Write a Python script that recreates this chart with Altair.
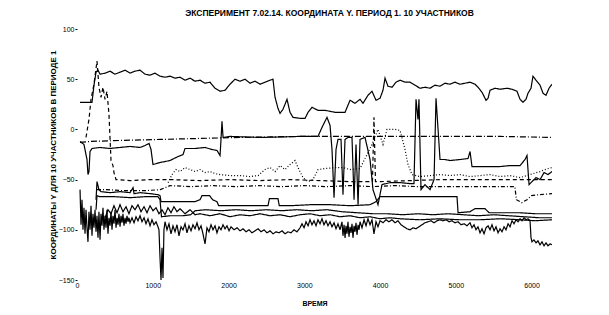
import altair as alt
import pandas as pd

TITLE = "ЭКСПЕРИМЕНТ 7.02.14. КООРДИНАТА Y. ПЕРИОД 1. 10 УЧАСТНИКОВ"
X_TITLE = "ВРЕМЯ"
Y_TITLE = "КООРДИНАТЫ Y ДЛЯ 10 УЧАСТНИКОВ В ПЕРИОДЕ 1"
X_TICKS = [0, 1000, 2000, 3000, 4000, 5000, 6000]
Y_TICKS = [-150, -100, -50, 0, 50, 100]

# (time, value) pairs
S1 = [(40,27),(198,27),(224,44),(251,57),(277,59),(304,55),(370,56),(436,58),(502,55),(568,57),
      (634,59),(700,56),(766,58),(832,59),(898,55),(964,54),(1030,56),(1096,53),(1162,52),(1228,53),
      (1294,51),(1360,52),(1426,49),(1492,51),(1558,48),(1624,49),(1690,46),(1756,47),(1822,41),(1888,38),
      (1954,39),(2020,45),(2086,50),(2152,48),(2218,50),(2284,46),(2350,48),(2416,45),(2482,47),(2548,49),
      (2587,50),(2614,32),(2653,21),(2680,16),(2719,20),(2772,30),(2812,17),(2851,12),(2944,11),(3010,11),
      (3050,17),(3102,22),(3181,19),(3274,19),(3406,17),(3538,17),(3604,29),(3670,26),(3736,30),(3775,26),
      (3841,34),(3894,38),(3947,29),(4000,31),(4039,39),(4066,51),(4105,43),(4158,42),(4211,47),(4264,49),
      (4330,47),(4396,47),(4462,44),(4528,41),(4594,42),(4660,41),(4726,44),(4792,43),(4858,46),(4924,45),
      (4990,47),(5056,45),(5122,46),(5188,47),(5254,45),(5293,42),(5346,37),(5399,29),(5426,31),(5452,39),
      (5518,41),(5584,40),(5676,41),(5742,40),(5808,38),(5848,30),(5887,27),(5927,30),(5953,36),(5993,41),
      (6019,53),(6059,49),(6112,44),(6152,36),(6191,34),(6231,41),(6270,45)]

S2 = [(119,-8),(158,10),(185,30),(224,45),(264,68),(290,42),(317,32),(343,42),(370,30),(396,38),
      (422,15),(449,-31),(475,-36),(488,-43),(515,-50),(700,-51),(964,-50),(1228,-50),(1624,-51),(2020,-50),
      (2416,-51),(2812,-50),(3208,-51),(3604,-52),(3900,-52),(3920,12),(3940,-52),(4000,-52),(4396,-51),
      (4792,-50),(5188,-50),(5584,-50),(5980,-50),(6270,-50)]

S3 = [(40,-13),(172,-12),(568,-11),(1096,-10),(1624,-9),(2152,-8),(2944,-7),(3604,-7),(4264,-7),
      (4924,-7),(5584,-7),(6270,-8)]

S4 = [(40,-12),(92,-15),(132,-30),(145,-45),(158,-42),(172,-22),(198,-19),(304,-18),(436,-19),(568,-18),
      (700,-17),(832,-18),(898,-16),(951,-14),(977,-20),(1003,-35),(1096,-33),(1228,-31),(1334,-27),(1400,-25),
      (1426,-19),(1558,-19),(1690,-18),(1782,-20),(1848,-21),(1888,-26),(1901,-10),(1914,8),(1928,-8),(2020,-7),
      (2416,-8),(2944,-7),(3181,-7),(3234,2),(3300,12),(3340,4),(3366,-20),(3393,-68),(3419,-20),(3445,-10),
      (3485,-10),(3511,-65),(3538,-10),(3577,-8),(3630,-8),(3657,-70),(3683,-15),(3710,-75),(3736,-10),(3802,-8),
      (3868,-30),(3907,-60),(3973,-75),(4026,-55),(4132,-53),(4264,-53),(4396,-54),(4448,-54),(4475,30),(4501,10),
      (4514,30),(4541,-60),(4594,-55),(4660,-60),(4713,-50),(4739,31),(4766,0),(4792,-30),(4858,-30),(4924,-31),
      (5056,-30),(5162,-29),(5188,-22),(5214,-37),(5320,-37),(5452,-37),(5584,-37),(5716,-36),(5848,-36),(5914,-30),
      (5940,-26),(5967,-55),(6006,-52),(6059,-48),(6112,-50),(6165,-43),(6217,-45),(6270,-42)]

S5 = [(1202,-53),(1254,-45),(1307,-40),(1360,-42),(1426,-38),(1492,-40),(1558,-42),(1624,-40),(1690,-43),(1756,-42),
      (1822,-44),(1888,-45),(2020,-46),(2152,-46),(2284,-47),(2390,-46),(2482,-40),(2548,-38),(2614,-42),(2680,-36),
      (2746,-40),(2812,-35),(2878,-31),(2917,-38),(2983,-48),(3050,-52),(3115,-50),(3181,-40),(3274,-39),(3406,-38),
      (3511,-38),(3604,-40),(3736,-39),(3894,-15),(3973,0),(4039,-15),(4092,0),(4198,0),(4264,-1),(4330,-20),
      (4369,-35),(4422,-45),(4528,-47),(4660,-46),(4792,-45),(4924,-46),(5056,-45),(5188,-47),(5320,-46),(5452,-45),
      (5584,-47),(5716,-46),(5848,-48),(5980,-45),(6112,-42),(6178,-40),(6270,-38)]

S6 = [(251,-70),(264,-52),(290,-60),(317,-62),(436,-63),(568,-62),(700,-63),(740,-58),(753,-64),(832,-63),
      (964,-64),(1069,-65),(1096,-66),(1109,-72),(1228,-72),(1426,-72),(1558,-72),(1624,-70),(1650,-66),(1750,-66),
      (1790,-70),(1848,-72),(1870,-76),(2152,-76),(2416,-76),(2521,-76),(2540,-69),(2653,-69),(2670,-76),(2812,-76),
      (3076,-75),(3340,-75),(3604,-76),(3868,-75),(3947,-72),(4000,-67),(4264,-67),(4528,-67),(4792,-67),(5016,-67),
      (5030,-83),(5188,-82),(5254,-79),(5386,-79),(5440,-83),(5584,-83),(5848,-83),(6046,-84),(6270,-84)]

S7 = [(370,-88),(409,-80),(449,-84),(488,-76),(528,-83),(568,-75),(607,-82),(647,-77),(686,-84),(726,-76),
      (766,-80),(805,-75),(845,-82),(885,-77),(924,-83),(964,-76),(1003,-81),(1043,-78),(1082,-84),(1122,-80),
      (1162,-85),(1201,-78),(1241,-83),(1280,-77),(1320,-82),(1360,-79),(1426,-84),(1492,-80),(1558,-85),(1624,-84),
      (1756,-86),(1888,-84),(2020,-87),(2152,-85),(2284,-86),(2416,-84),(2548,-86),(2680,-85),(2812,-87),(2944,-85),
      (3076,-84),(3208,-86),(3340,-85),(3472,-87),(3604,-86),(3736,-88),(3868,-87),(4000,-89),(4132,-88),(4264,-89),
      (4528,-90),(4792,-89),(5056,-90),(5320,-90),(5584,-89),(5848,-90),(6046,-91),(6270,-90)]

S8 = [(40,-60),(53,-95),(66,-70),(79,-100),(92,-78),(106,-104),(119,-80),(132,-98),(145,-112),(158,-82),
      (172,-100),(185,-76),(198,-106),(211,-84),(224,-98),(238,-80),(251,-102),(264,-86),(277,-108),(290,-82),
      (304,-110),(317,-84),(330,-96),(343,-78),(356,-100),(370,-86),(383,-98),(396,-80),(409,-104),(422,-88),
      (436,-96),(449,-82),(462,-100),(475,-86),(488,-94),(502,-80),(515,-98),(528,-88),(541,-95),(554,-84),
      (568,-97),(581,-86),(594,-93),(607,-84),(620,-96),(634,-88),(647,-94),(660,-86),(673,-92),(686,-88),
      (700,-93),(726,-88),(753,-93),(779,-87),(805,-91),(832,-86),(858,-92),(885,-88),(911,-94),(937,-89),
      (964,-96),(990,-90),(1016,-95),(1043,-92),(1069,-97),(1082,-100),(1096,-128),(1109,-150),(1122,-118),(1135,-148),
      (1148,-100),(1162,-92),(1188,-100),(1214,-94),(1241,-104),(1267,-96),(1294,-102),(1320,-95),(1346,-106),(1373,-97),
      (1399,-100),(1426,-94),(1452,-103),(1478,-96),(1505,-101),(1531,-95),(1558,-99),(1584,-93),(1610,-100),(1637,-96),
      (1663,-104),(1690,-114),(1716,-98),(1742,-102),(1769,-95),(1795,-100),(1822,-96),(1848,-103),(1874,-97),(1901,-100),
      (1927,-95),(1954,-99),(1980,-96),(2007,-101),(2033,-97),(2073,-100),(2113,-98),(2152,-101),(2192,-99),(2231,-102),
      (2271,-100),(2310,-103),(2350,-101),(2390,-99),(2429,-102),(2469,-100),(2508,-103),(2548,-101),(2588,-104),(2627,-102),
      (2667,-103),(2706,-101),(2746,-104),(2785,-102),(2825,-103),(2865,-100),(2904,-102),(2944,-98),(2970,-94),(2997,-98),
      (3023,-92),(3050,-96),(3076,-90),(3102,-95),(3129,-91),(3155,-96),(3181,-90),(3208,-94),(3234,-89),(3260,-95),
      (3287,-91),(3313,-96),(3340,-92),(3366,-97),(3393,-93),(3419,-99),(3445,-94),(3472,-100),(3498,-92),(3511,-106),
      (3525,-95),(3538,-108),(3551,-96),(3564,-104),(3577,-92),(3590,-107),(3604,-97),(3617,-103),(3630,-94),(3643,-108),
      (3657,-96),(3670,-102),(3683,-93),(3696,-105),(3710,-95),(3723,-100),(3736,-92),(3762,-98),(3789,-90),(3815,-96),
      (3841,-89),(3868,-95),(3894,-90),(3920,-104),(3947,-92),(3973,-97),(4000,-91),(4039,-93),(4079,-90),(4118,-92),
      (4158,-90),(4198,-93),(4237,-91),(4277,-95),(4316,-97),(4356,-99),(4396,-100),(4435,-98),(4475,-99),(4514,-97),
      (4554,-95),(4594,-93),(4633,-92),(4673,-91),(4713,-93),(4752,-91),(4792,-90),(4831,-91),(4871,-90),(4911,-92),
      (4950,-91),(4990,-93),(5029,-92),(5069,-95),(5108,-94),(5148,-96),(5188,-93),(5214,-98),(5241,-95),(5267,-100),
      (5293,-97),(5320,-103),(5346,-99),(5373,-104),(5399,-98),(5426,-96),(5452,-100),(5478,-95),(5505,-101),(5531,-97),
      (5558,-103),(5584,-99),(5610,-102),(5637,-97),(5663,-100),(5690,-94),(5716,-97),(5742,-91),(5769,-94),(5795,-90),
      (5822,-92),(5848,-89),(5874,-91),(5901,-88),(5927,-90),(5953,-89),(5980,-91),(5993,-108),(6006,-112),(6032,-110),
      (6059,-113),(6085,-111),(6112,-115),(6138,-112),(6165,-116),(6191,-113),(6217,-116),(6244,-114),(6270,-115)]

S9 = [(251,-80),(264,-66),(300,-67),(500,-67),(700,-68),(900,-67),(1069,-67),(1096,-70),(1115,-87),(1228,-86),
      (1400,-86),(1500,-85),(1560,-81),(1700,-80),(1900,-81),(2100,-80),(2300,-81),(2500,-80),(2700,-81),(2900,-80),
      (3100,-81),(3300,-80),(3500,-82),(3700,-83),(3900,-84),(4100,-84),(4300,-85),(4500,-84),(4700,-85),(4900,-84),
      (5100,-85),(5300,-86),(5500,-85),(5700,-86),(5900,-87),(6100,-88),(6270,-88)]

S10 = [(264,-60),(400,-60),(600,-61),(900,-61),(1100,-60),(1228,-56),(1500,-57),(1800,-56),(2100,-57),(2400,-56),
       (2700,-57),(3000,-56),(3300,-57),(3600,-56),(3900,-57),(4200,-56),(4500,-57),(4800,-57),(5100,-57),(5400,-57),
       (5650,-57),(5780,-57),(5800,-70),(5870,-73),(5940,-70),(6000,-66),(6100,-65),(6270,-64)]

SERIES = [("S1", S1), ("S2", S2), ("S3", S3), ("S4", S4), ("S5", S5),
          ("S6", S6), ("S7", S7), ("S8", S8), ("S9", S9), ("S10", S10)]
NAMES = [n for n, _ in SERIES]
DASHES = [[1, 0], [4, 3], [6, 2, 1, 2], [1, 0], [1, 2], [1, 0], [1, 0], [1, 0], [1, 0], [4, 2, 1, 2]]
WIDTHS = [1.2, 1.2, 1.2, 1.3, 1.2, 1.2, 1.2, 2.2, 1.2, 1.2]

rows = []
for name, pts in SERIES:
    for i, (t, v) in enumerate(pts):
        rows.append({"series": name, "t": t, "v": v, "i": i})
df = pd.DataFrame(rows)

FONT = "Liberation Sans"

chart = alt.Chart(df).mark_line(color="black", clip=True).encode(
    x=alt.X("t:Q",
            scale=alt.Scale(domain=[0, 6270], nice=False, zero=False),
            axis=alt.Axis(values=X_TICKS, format="d", title=X_TITLE, grid=False, domain=False, ticks=False,
                          tickSize=0, labelFlush=False, labelPadding=1, labelFontSize=7,
                          labelFont=FONT, labelColor="black", titleFont=FONT, titleFontSize=7,
                          titleFontWeight="bold", titleColor="black", titlePadding=11)),
    y=alt.Y("v:Q",
            scale=alt.Scale(domain=[-150, 100], nice=False, zero=False),
            axis=alt.Axis(values=Y_TICKS, format="d", title=Y_TITLE, grid=False, domain=False, ticks=True,
                          tickSize=2, tickColor="black", labelPadding=1, labelFontSize=7,
                          labelFont=FONT, labelColor="black", titleFont=FONT, titleFontSize=8,
                          titleFontWeight="bold", titleColor="black", titlePadding=1)),
    detail="series:N",
    order=alt.Order("i:Q"),
    strokeDash=alt.StrokeDash("series:N", scale=alt.Scale(domain=NAMES, range=DASHES), legend=None),
    strokeWidth=alt.StrokeWidth("series:N", scale=alt.Scale(domain=NAMES, range=WIDTHS), legend=None),
).properties(
    width=475, height=251,
    title=alt.TitleParams(TITLE, font=FONT, fontSize=8.5, fontWeight="bold", color="black",
                          anchor="middle", dx=15, offset=8),
    autosize=alt.AutoSizeParams(type="none"),
    padding={"left": 77, "top": 29, "right": 57, "bottom": 35},
    background="white",
).configure_view(stroke=None)

chart.save("out.html", embed_options={"renderer": "svg", "actions": False})
